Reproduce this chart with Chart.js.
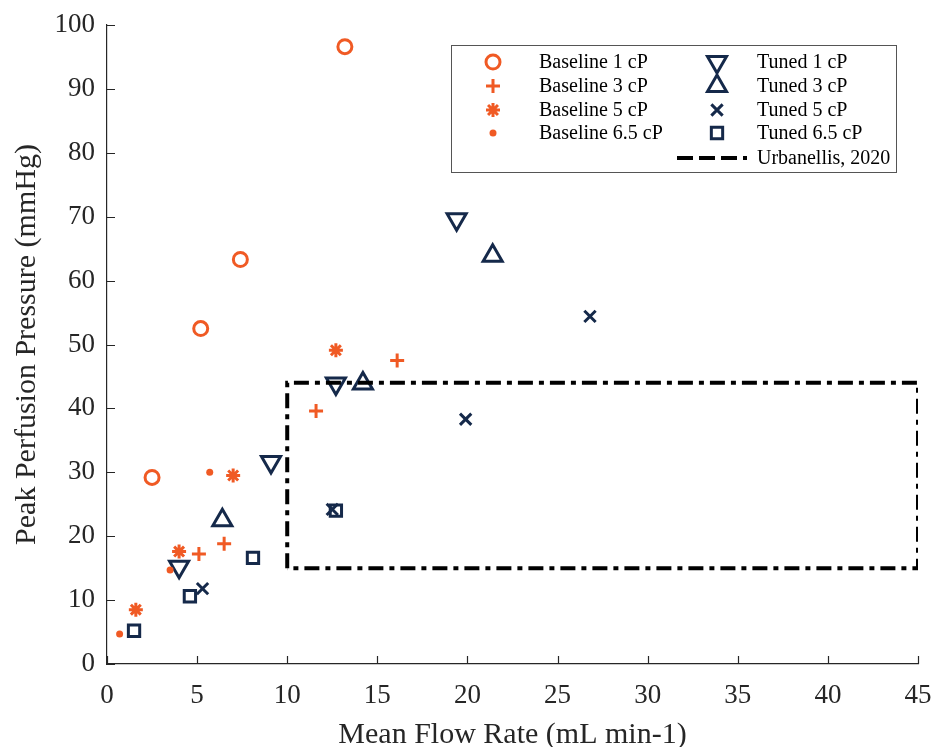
<!DOCTYPE html>
<html>
<head>
<meta charset="utf-8">
<script src="https://cdn.jsdelivr.net/npm/chart.js@4.4.1/dist/chart.umd.min.js"></script>
<style>
  html, body { margin: 0; padding: 0; background: #fff; }
  #wrap { width: 932px; height: 747px; }
</style>
</head>
<body>
<div id="wrap"><canvas id="chart" width="932" height="747"></canvas></div>
<script>
// data (x = mean flow rate, y = peak perfusion pressure)
const base1X = [2.5, 5.2, 7.4, 13.2];
const base1Y = [29.2, 52.5, 63.3, 96.6];
const base3X = [5.1, 6.5, 11.6, 16.1];
const base3Y = [17.2, 18.8, 39.6, 47.5];
const base5X = [1.6, 4.0, 7.0, 12.7];
const base5Y = [8.5, 17.6, 29.5, 49.1];
const base65X = [0.7, 3.5, 5.7];
const base65Y = [4.7, 14.7, 30.0];
const tuned1X = [4.0, 9.1, 12.7, 19.4];
const tuned1Y = [15.2, 31.6, 43.9, 69.6];
const tuned3X = [6.4, 14.2, 21.4];
const tuned3Y = [22.5, 43.9, 63.9];
const tuned5X = [5.3, 12.5, 19.9, 26.8];
const tuned5Y = [11.8, 24.2, 38.3, 54.4];
const tuned65X = [1.5, 4.6, 8.1, 12.7];
const tuned65Y = [5.2, 10.6, 16.6, 24.0];
// Urbanellis, 2020 window (corners)
const urbX = [10, 10, 45, 45, 10];
const urbY = [15, 44, 44, 15, 15];

const xTicks = [0, 5, 10, 15, 20, 25, 30, 35, 40, 45];
const yTicks = [0, 10, 20, 30, 40, 50, 60, 70, 80, 90, 100];

const ORANGE = '#F05A24';
const NAVY = '#15294A';
const AXIS = '#262626';
const SERIF = '"Liberation Serif", "Times New Roman", serif';
const DASH = [15, 6, 5, 6];

function pts(xs, ys) {
  return xs.map((x, i) => ({ x: x, y: ys[i] }));
}

function markerSet(label, xs, ys, color, style, radius, bw, rot, filled) {
  return {
    label: label,
    data: pts(xs, ys),
    showLine: false,
    pointStyle: style,
    pointRadius: radius,
    pointHoverRadius: radius,
    pointRotation: rot || 0,
    pointBorderWidth: bw,
    pointBorderColor: color,
    pointBackgroundColor: filled ? color : 'rgba(0,0,0,0)',
    borderColor: color,
    backgroundColor: filled ? color : 'rgba(0,0,0,0)'
  };
}

const datasets = [
  {
    label: 'Urbanellis, 2020',
    data: pts(urbX, urbY),
    showLine: true,
    borderColor: '#000',
    borderWidth: 4,
    borderDash: DASH,
    pointRadius: 0,
    fill: false,
    tension: 0
  },
  markerSet('Baseline 1 cP', base1X, base1Y, ORANGE, 'circle', 7, 3),
  markerSet('Baseline 3 cP', base3X, base3Y, ORANGE, 'cross', 7, 3),
  markerSet('Baseline 5 cP', base5X, base5Y, ORANGE, 'star', 7, 3),
  markerSet('Baseline 6.5 cP', base65X, base65Y, ORANGE, 'circle', 3.5, 0, 0, true),
  markerSet('Tuned 1 cP', tuned1X, tuned1Y, NAVY, 'triangle', 11, 3, 180),
  markerSet('Tuned 3 cP', tuned3X, tuned3Y, NAVY, 'triangle', 11, 3),
  markerSet('Tuned 5 cP', tuned5X, tuned5Y, NAVY, 'crossRot', 8, 3),
  markerSet('Tuned 6.5 cP', tuned65X, tuned65Y, NAVY, 'rect', 8, 3)
];

// matlab style ticks pointing into the plot
const innerTicks = {
  id: 'innerTicks',
  afterDatasetsDraw(chart) {
    const ctx = chart.ctx;
    const xs = chart.scales.x, ys = chart.scales.y;
    const area = chart.chartArea;
    ctx.save();
    ctx.strokeStyle = AXIS;
    ctx.lineWidth = 1.2;
    ctx.beginPath();
    xTicks.forEach(v => {
      const px = Math.round(xs.getPixelForValue(v)) + 0.5;
      ctx.moveTo(px, area.bottom);
      ctx.lineTo(px, area.bottom - 8);
    });
    yTicks.forEach(v => {
      const py = Math.round(ys.getPixelForValue(v)) + 0.5;
      ctx.moveTo(area.left, py);
      ctx.lineTo(area.left + 8, py);
    });
    ctx.stroke();
    ctx.restore();
  }
};

// two column legend box like the original
const boxLegend = {
  id: 'boxLegend',
  afterDraw(chart) {
    const ctx = chart.ctx;
    const h = Chart.helpers;
    ctx.save();
    ctx.fillStyle = '#fff';
    ctx.fillRect(451, 45, 446, 128);
    ctx.strokeStyle = '#555';
    ctx.lineWidth = 1;
    ctx.strokeRect(451.5, 45.5, 445, 127);

    const rows = [62, 86, 110, 133, 158];
    const cols = [
      { mx: 493, tx: 539, sets: [1, 2, 3, 4] },
      { mx: 717, tx: 757, sets: [5, 6, 7, 8] }
    ];
    ctx.font = '20px ' + SERIF;
    ctx.textBaseline = 'middle';
    ctx.textAlign = 'left';
    cols.forEach(c => {
      c.sets.forEach((di, r) => {
        const ds = chart.data.datasets[di];
        const y = rows[r];
        ctx.strokeStyle = ds.pointBorderColor;
        ctx.fillStyle = ds.pointBackgroundColor;
        ctx.lineWidth = ds.pointBorderWidth;
        h.drawPoint(ctx, {
          pointStyle: ds.pointStyle,
          radius: ds.pointRadius,
          rotation: ds.pointRotation,
          borderWidth: ds.pointBorderWidth
        }, c.mx, y);
        ctx.fillStyle = '#000';
        ctx.fillText(ds.label, c.tx, y + 1);
      });
    });
    // Urbanellis line sample
    ctx.strokeStyle = '#000';
    ctx.lineWidth = 4;
    ctx.setLineDash([16, 6]);
    ctx.beginPath();
    ctx.moveTo(677, rows[4]);
    ctx.lineTo(747, rows[4]);
    ctx.stroke();
    ctx.setLineDash([]);
    ctx.fillStyle = '#000';
    ctx.fillText(chart.data.datasets[0].label, 757, rows[4] + 1);
    ctx.restore();
  }
};

new Chart(document.getElementById('chart'), {
  type: 'scatter',
  data: { datasets: datasets },
  options: {
    responsive: false,
    animation: false,
    layout: { padding: { top: 25, right: 14, left: 0, bottom: 0 } },
    plugins: {
      legend: { display: false },
      tooltip: { enabled: false }
    },
    scales: {
      x: {
        type: 'linear',
        min: 0,
        max: 45,
        afterBuildTicks: s => { s.ticks = xTicks.map(v => ({ value: v })); },
        afterFit: s => { s.height = 83; s.paddingRight = 0; s.paddingLeft = 0; },
        grid: { display: true, drawOnChartArea: false, drawTicks: false },
        border: { display: true, color: AXIS, width: 1.2 },
        ticks: { color: AXIS, padding: 16, maxRotation: 0, font: { family: SERIF, size: 27 } },
        title: {
          display: true,
          text: 'Mean Flow Rate (mL min-1)',
          color: AXIS,
          padding: { top: 0, bottom: -3 },
          font: { family: SERIF, size: 30, lineHeight: 1 }
        }
      },
      y: {
        type: 'linear',
        min: 0,
        max: 100,
        afterBuildTicks: s => { s.ticks = yTicks.map(v => ({ value: v })); },
        afterFit: s => { s.width = 107; s.paddingTop = 0; s.paddingBottom = 0; },
        grid: { display: true, drawOnChartArea: false, drawTicks: false },
        border: { display: true, color: AXIS, width: 1.2 },
        ticks: { color: AXIS, padding: 12, font: { family: SERIF, size: 27 } },
        title: {
          display: true,
          text: 'Peak Perfusion Pressure (mmHg)',
          color: AXIS,
          padding: { top: 9, bottom: 0 },
          font: { family: SERIF, size: 30 }
        }
      }
    }
  },
  plugins: [innerTicks, boxLegend]
});
</script>
</body>
</html>
